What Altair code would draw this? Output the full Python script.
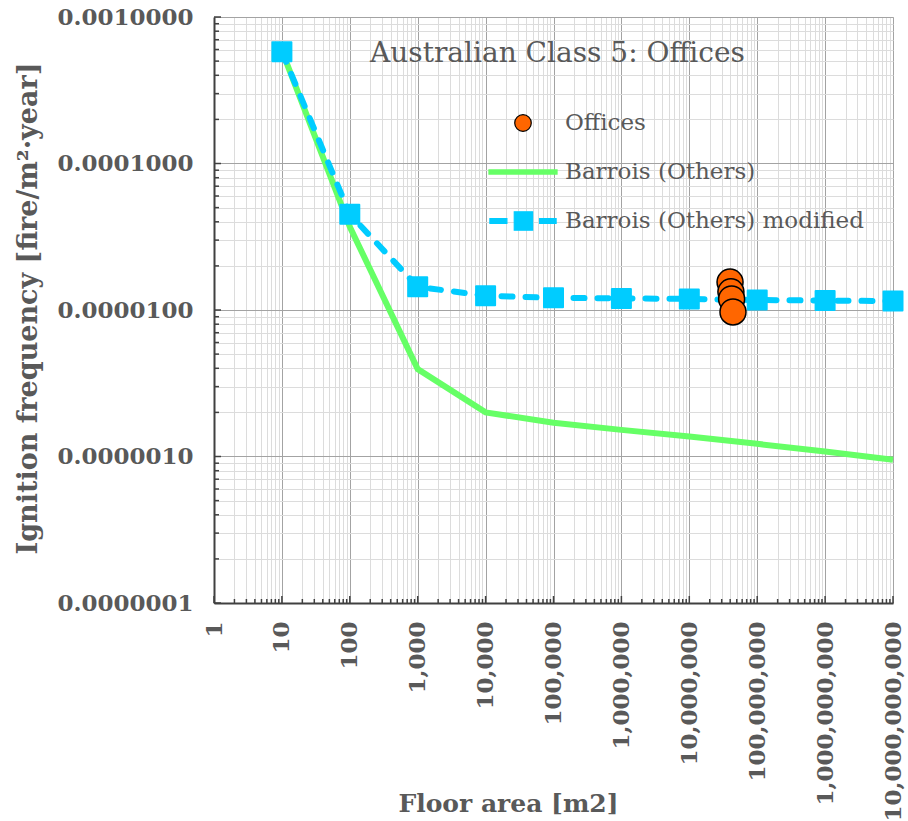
import altair as alt
import pandas as pd

# Barrois ignition-frequency curves for Australian Class 5 (offices)
area = [10, 100, 1e3, 1e4, 1e5, 1e6, 1e7, 1e8, 1e9, 1e10]
barrois = [5.9e-4, 3.7e-5, 3.95e-6, 2.0e-6, 1.7e-6, 1.52e-6, 1.37e-6, 1.22e-6, 1.08e-6, 9.5e-7]
barrois_mod = [5.8e-4, 4.5e-5, 1.44e-5, 1.25e-5, 1.21e-5, 1.2e-5, 1.19e-5, 1.17e-5, 1.16e-5, 1.15e-5]

# Observed office buildings
office_area = [3.98e7, 4.1e7, 4.2e7, 4.4e7]
office_freq = [1.55e-5, 1.33e-5, 1.19e-5, 9.7e-6]

series = ["Offices", "Barrois (Others)", "Barrois (Others) modified"]
series_fill = ["#FF6600", "#66FF66", "#00CCFF"]
series_stroke = ["#000000", "#66FF66", "#00CCFF"]

# Log-axis grid positions: every 1..9 x 10^k
x_ticks = [n * 10 ** k for k in range(10) for n in range(1, 10)] + [10 ** 10]
y_ticks = [n * 10.0 ** k for k in range(-7, -3) for n in range(1, 10)] + [1e-3]
x_major = [10 ** k for k in range(11)]
x_minor = [v for v in x_ticks if v not in x_major]
y_major = [1e-7, 1e-6, 1e-5, 1e-4, 1e-3]
y_minor = [v for v in y_ticks if v not in y_major]

W, H = 679, 586
GREY = "#595959"
SERIF = "DejaVu Serif"
MAJOR = "abs(log(datum.value)/LN10 - round(log(datum.value)/LN10)) < 1e-6"

curves = pd.DataFrame(
    {"x": area * 2, "y": barrois + barrois_mod,
     "series": [series[1]] * len(area) + [series[2]] * len(area)}
)
offices = pd.DataFrame({"x": office_area, "y": office_freq, "series": series[0]})
all_points = pd.concat([offices, curves], ignore_index=True)

x_scale = alt.Scale(type="log", domain=[1, 1e10], nice=False)
y_scale = alt.Scale(type="log", domain=[1e-7, 1e-3], nice=False)
grid_color = {"condition": {"test": MAJOR, "value": "#a3a3a3"}, "value": "#dcdcdc"}

x_axis = alt.Axis(
    values=x_ticks, labelExpr=f"{MAJOR} ? format(datum.value, ',') : ''",
    labelAngle=270, labelAlign="right", labelBaseline="middle", labelPadding=18,
    labelFont=SERIF, labelFontSize=23, labelFontWeight="bold", labelColor=GREY,
    labelOverlap=False, labelFlush=False, labelLimit=0, ticks=False, tickSize=0,
    domainColor="#404040", domainWidth=2, grid=True, gridColor=grid_color, gridWidth=1,
    title="Floor area [m2]", titleFont=SERIF, titleFontSize=25, titleFontWeight="bold",
    titleColor=GREY, titleX=294, titleY=200, titleAlign="center", titleBaseline="middle",
)
y_axis = alt.Axis(
    values=y_ticks, labelExpr=f"{MAJOR} ? format(datum.value, '.7f') : ''",
    labelAlign="right", labelBaseline="middle", labelPadding=21,
    labelFont=SERIF, labelFontSize=23, labelFontWeight="bold", labelColor=GREY,
    labelOverlap=False, labelFlush=False, labelLimit=0, ticks=False, tickSize=0,
    domainColor="#404040", domainWidth=2, grid=True, gridColor=grid_color, gridWidth=1,
    title="Ignition frequency [fire/m²·year]", titleFont=SERIF, titleFontSize=27,
    titleFontWeight="bold", titleColor=GREY, titleX=-186, titleY=291, titleAngle=270,
    titleAlign="center", titleBaseline="middle",
)

X = alt.X("x:Q", scale=x_scale, axis=x_axis)
Y = alt.Y("y:Q", scale=y_scale, axis=y_axis)

# Legend symbols: dot, solid line, dashed line with square
P_DOT = "M-0.36,0A0.36,0.36,0,1,1,0.36,0A0.36,0.36,0,1,1,-0.36,0Z"
P_LINE = "M-1.48,-0.09H1.48V0.09H-1.48Z"
P_DASH = ("M-1.44,-0.1H-0.7V0.1H-1.44Z M-0.38,-0.4H0.42V0.4H-0.38Z "
          "M0.72,-0.1H1.44V0.1H0.72Z")

legend = alt.Legend(
    title=None, orient="none", legendX=285, legendY=82, direction="vertical",
    symbolSize=2116, symbolOpacity=1, symbolStrokeWidth=1.2,
    labelOffset=18, rowPadding=13, labelLimit=0,
    labelFont=SERIF, labelFontSize=23, labelColor=GREY, labelFontWeight="normal",
)

green = alt.Chart(curves).transform_filter(alt.datum.series == series[1]).mark_line(
    stroke=series_fill[1], strokeWidth=6
).encode(x=X, y=Y)

blue = alt.Chart(curves).transform_filter(alt.datum.series == series[2]).mark_line(
    stroke=series_fill[2], strokeWidth=6, strokeDash=[11, 13], strokeCap="round"
).encode(x=X, y=Y)

squares = alt.Chart(curves).transform_filter(alt.datum.series == series[2]).mark_point(
    shape="square", filled=True, size=361, opacity=1, fill=series_fill[2],
    stroke=series_fill[2], strokeWidth=2, strokeJoin="round"
).encode(x=X, y=Y)

dots = alt.Chart(offices).mark_point(
    shape="circle", filled=True, size=676, opacity=1, fill=series_fill[0],
    stroke="#000000", strokeWidth=1.5
).encode(x=X, y=Y)

# Invisible layer that carries the series legend
key = alt.Chart(all_points).mark_point(filled=True, opacity=0).encode(
    x=X, y=Y,
    fill=alt.Fill("series:N", scale=alt.Scale(domain=series, range=series_fill), legend=legend),
    stroke=alt.Stroke("series:N", scale=alt.Scale(domain=series, range=series_stroke), legend=legend),
    shape=alt.Shape("series:N", scale=alt.Scale(domain=series, range=[P_DOT, P_LINE, P_DASH]),
                    legend=legend),
)

# Inward tick marks along both axes
tick_color = "#404040"
xt_major = alt.Chart(pd.DataFrame({"x": x_major})).mark_rule(color=tick_color, strokeWidth=1.5).encode(
    x=X, y=alt.value(H), y2=alt.value(H - 7))
xt_minor = alt.Chart(pd.DataFrame({"x": x_minor})).mark_rule(color=tick_color, strokeWidth=1.5).encode(
    x=X, y=alt.value(H), y2=alt.value(H - 4))
yt_major = alt.Chart(pd.DataFrame({"y": y_major})).mark_rule(color=tick_color, strokeWidth=1.5).encode(
    y=Y, x=alt.value(0), x2=alt.value(7))
yt_minor = alt.Chart(pd.DataFrame({"y": y_minor})).mark_rule(color=tick_color, strokeWidth=1.5).encode(
    y=Y, x=alt.value(0), x2=alt.value(5))

chart = alt.layer(
    green, blue, squares, dots, key, xt_major, xt_minor, yt_major, yt_minor
).properties(
    width=W, height=H,
    title=alt.TitleParams(
        "Australian Class 5: Offices", font=SERIF, fontSize=28, fontWeight="normal",
        color=GREY, anchor="middle", baseline="middle", offset=0, dy=76, dx=4,
    ),
    autosize=alt.AutoSizeParams(type="none"),
    padding={"left": 214, "top": 17, "right": 15, "bottom": 218},
).configure_view(stroke="#595959", strokeWidth=1).configure(background="white")

chart.save("out.html", embed_options={"renderer": "svg", "actions": False})
